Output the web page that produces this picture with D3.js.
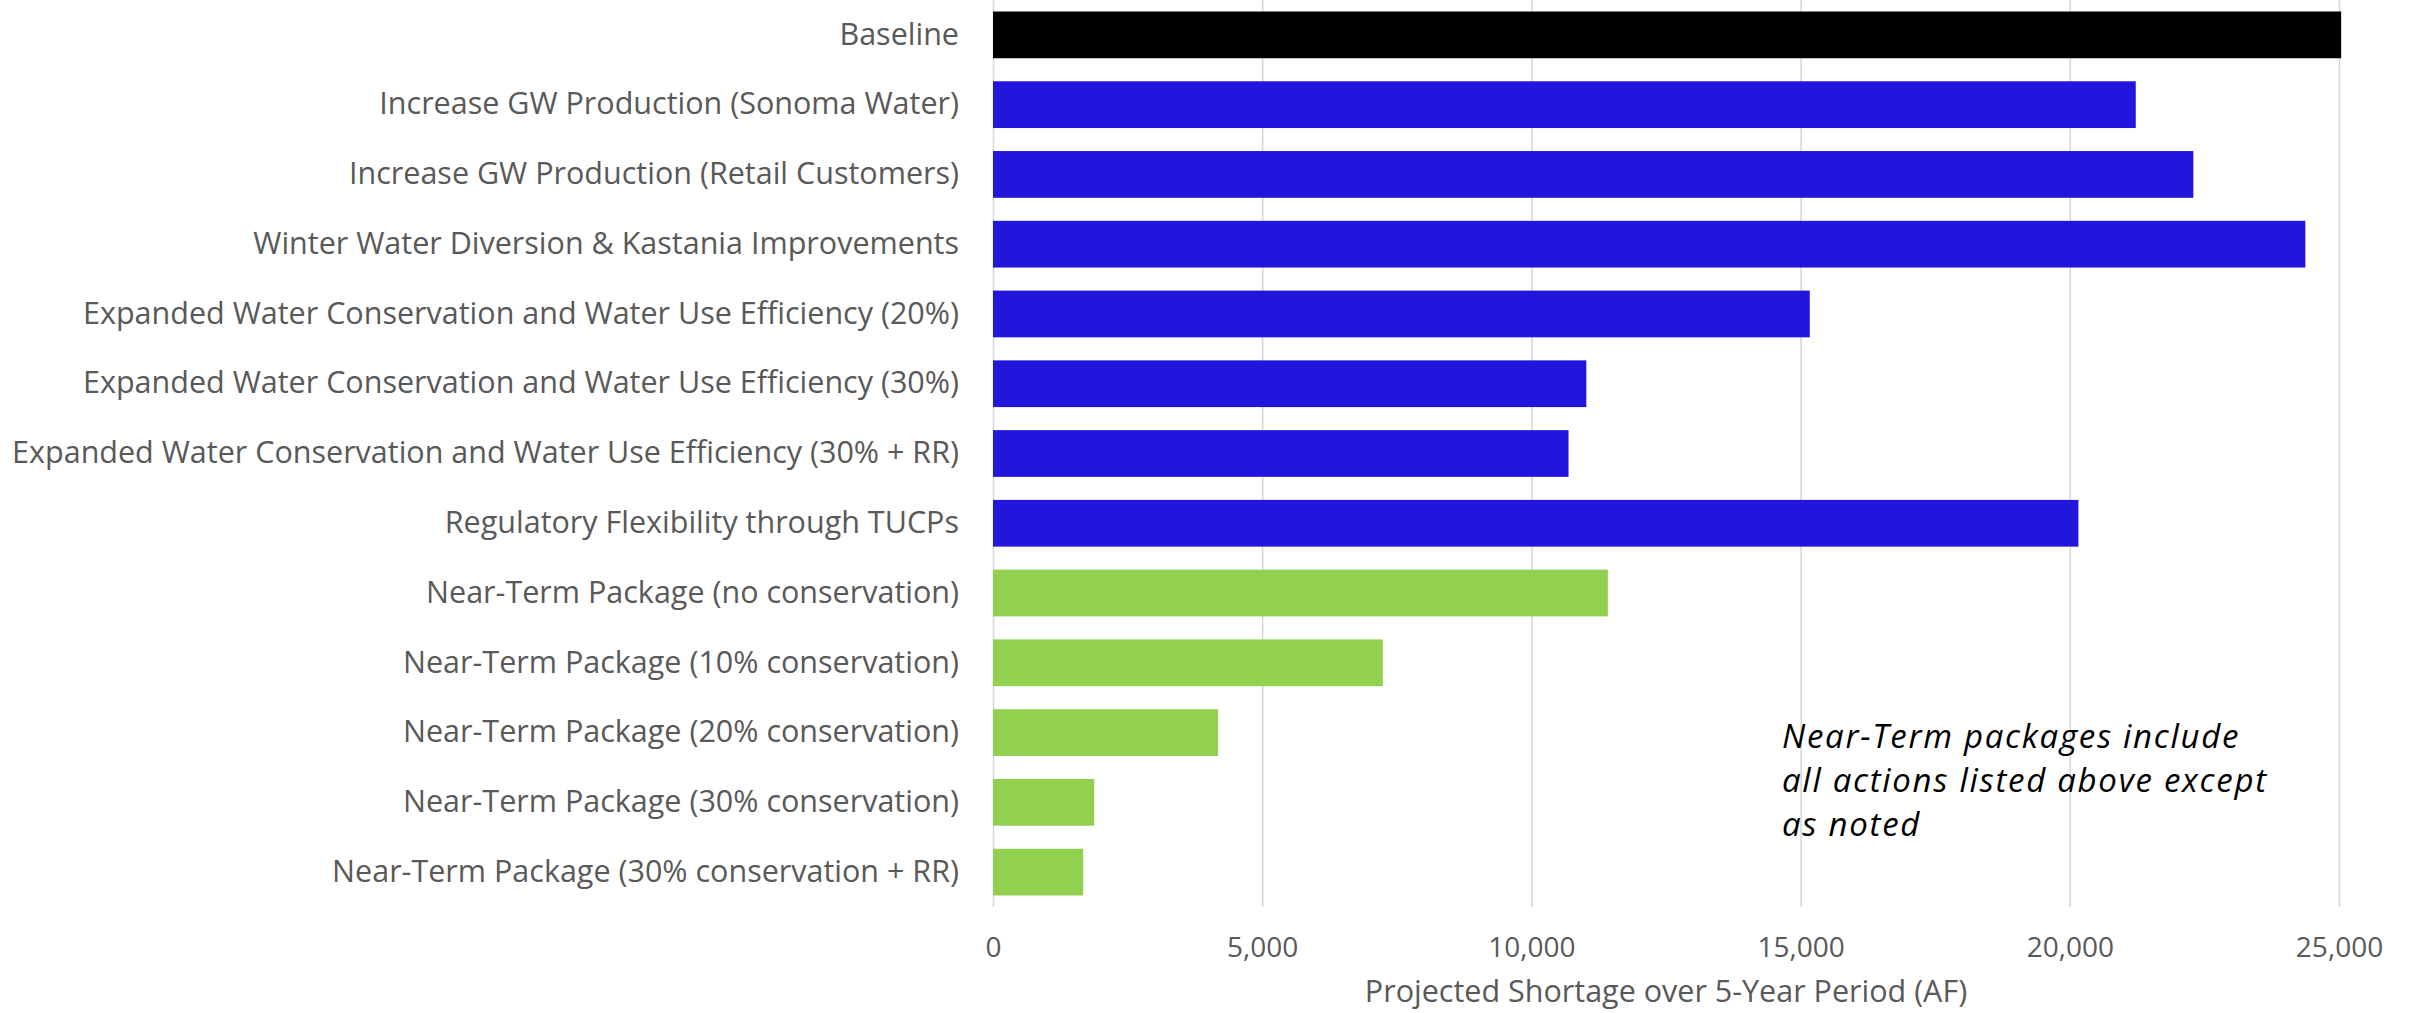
<!DOCTYPE html>
<html>
<head>
<meta charset="utf-8">
<script src="https://cdn.jsdelivr.net/npm/d3@7"></script>
<style>
  html, body { margin: 0; padding: 0; background: #ffffff; }
  svg { display: block; }
</style>
</head>
<body>
<svg id="chart" width="2417" height="1013"></svg>
<script>
// Scenario names, top to bottom
const categories = [
  "Baseline",
  "Increase GW Production (Sonoma Water)",
  "Increase GW Production (Retail Customers)",
  "Winter Water Diversion & Kastania Improvements",
  "Expanded Water Conservation and Water Use Efficiency (20%)",
  "Expanded Water Conservation and Water Use Efficiency (30%)",
  "Expanded Water Conservation and Water Use Efficiency (30% + RR)",
  "Regulatory Flexibility through TUCPs",
  "Near-Term Package (no conservation)",
  "Near-Term Package (10% conservation)",
  "Near-Term Package (20% conservation)",
  "Near-Term Package (30% conservation)",
  "Near-Term Package (30% conservation + RR)"
];

// Projected shortage over the 5-year period (AF)
const shortage = [25040, 21225, 22295, 24375, 15170, 11020, 10690, 20160, 11420, 7240, 4180, 1880, 1675];

// Scenario group for each bar: baseline, individual action, near-term package
const groups = ["baseline", "action", "action", "action", "action", "action", "action", "action",
                "package", "package", "package", "package", "package"];

const groupColors = { baseline: "#000000", action: "#2316DC", package: "#92D050" };

const xTicks = [0, 5000, 10000, 15000, 20000, 25000];
const xTitle = "Projected Shortage over 5-Year Period (AF)";
const noteLines = ["Near-Term packages include", "all actions listed above except", "as noted"];

const rows = categories.map((c, i) => ({ name: c, value: shortage[i], group: groups[i] }));

const svg = d3.select("#chart");
const FONT = "'Open Sans', 'Noto Sans', sans-serif";
const plotTop = 0, plotBottom = 907;

const x = d3.scaleLinear().domain([0, 25000]).range([993, 2339]);
const y = d3.scaleBand().domain(categories).range([plotTop, plotBottom])
  .paddingInner(0.33).paddingOuter(0.165);

// Vertical gridlines and value ticks
const xAxis = svg.append("g")
  .attr("transform", `translate(0,${plotBottom})`)
  .call(d3.axisBottom(x).tickValues(xTicks).tickFormat(d3.format(","))
    .tickSize(-(plotBottom - plotTop)).tickPadding(30));
xAxis.select(".domain").remove();
xAxis.selectAll(".tick line").attr("stroke", "#d9d9d9").attr("stroke-width", 1.6);
xAxis.selectAll(".tick text")
  .attr("font-family", FONT).attr("font-size", 28).attr("fill", "#595959");

// Bars
svg.append("g").selectAll("rect")
  .data(rows)
  .join("rect")
  .attr("x", x(0))
  .attr("y", d => y(d.name))
  .attr("width", d => x(d.value) - x(0))
  .attr("height", y.bandwidth())
  .attr("fill", d => groupColors[d.group]);

// Category labels
const yAxis = svg.append("g")
  .attr("transform", `translate(${x(0)},0)`)
  .call(d3.axisLeft(y).tickSize(0).tickPadding(34));
yAxis.select(".domain").remove();
yAxis.selectAll(".tick text")
  .attr("font-family", FONT).attr("font-size", 30.5).attr("fill", "#595959");

// Axis title
svg.append("text")
  .attr("x", (x.range()[0] + x.range()[1]) / 2)
  .attr("y", 1002)
  .attr("text-anchor", "middle")
  .attr("font-family", FONT).attr("font-size", 30.5).attr("fill", "#595959")
  .text(xTitle);

// Note about the near-term packages
svg.append("text")
  .attr("font-family", FONT).attr("font-size", 33).attr("font-style", "italic")
  .attr("letter-spacing", 1.7).attr("fill", "#000000")
  .selectAll("tspan")
  .data(noteLines)
  .join("tspan")
  .attr("x", 1782)
  .attr("y", (d, i) => 748 + i * 44)
  .text(d => d);
</script>
</body>
</html>
